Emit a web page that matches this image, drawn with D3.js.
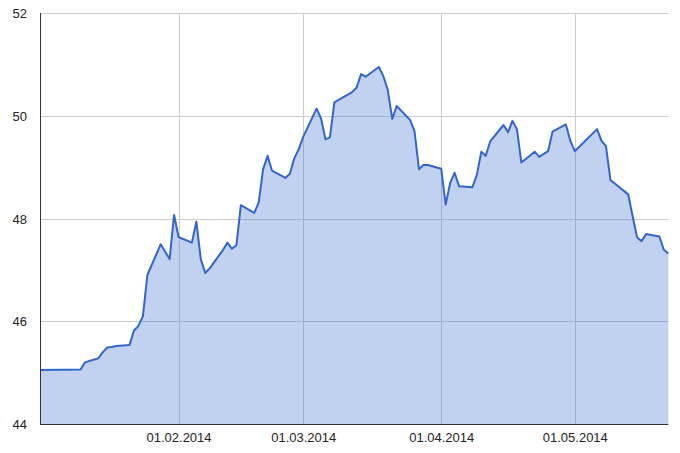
<!DOCTYPE html>
<html>
<head>
<meta charset="utf-8">
<script src="https://cdn.jsdelivr.net/npm/d3@7"></script>
<style>
  html, body { margin: 0; padding: 0; background: #fff; }
  svg { display: block; }
  text { font-family: "Liberation Sans", Arial, sans-serif; font-size: 13px; fill: #222; }
</style>
</head>
<body>
<svg id="chart" width="680" height="453"></svg>
<script>
const dates = [
  "2014-01-01","2014-01-10","2014-01-11","2014-01-14","2014-01-15","2014-01-16","2014-01-17","2014-01-18",
  "2014-01-21","2014-01-22","2014-01-23","2014-01-24","2014-01-25","2014-01-28","2014-01-30","2014-01-31",
  "2014-02-01","2014-02-04","2014-02-05","2014-02-06","2014-02-07","2014-02-08","2014-02-11","2014-02-12",
  "2014-02-13","2014-02-14","2014-02-15","2014-02-18","2014-02-19","2014-02-20","2014-02-21","2014-02-22",
  "2014-02-25","2014-02-26","2014-02-27","2014-02-28","2014-03-01","2014-03-04","2014-03-05","2014-03-06",
  "2014-03-07","2014-03-08","2014-03-12","2014-03-13","2014-03-14","2014-03-15","2014-03-18","2014-03-19",
  "2014-03-20","2014-03-21","2014-03-22","2014-03-25","2014-03-26","2014-03-27","2014-03-28","2014-03-29",
  "2014-04-01","2014-04-02","2014-04-03","2014-04-04","2014-04-05","2014-04-08","2014-04-09","2014-04-10",
  "2014-04-11","2014-04-12","2014-04-15","2014-04-16","2014-04-17","2014-04-18","2014-04-19","2014-04-22",
  "2014-04-23","2014-04-25","2014-04-26","2014-04-29","2014-04-30","2014-05-01","2014-05-06","2014-05-07",
  "2014-05-08","2014-05-09","2014-05-13","2014-05-14","2014-05-15","2014-05-16","2014-05-17","2014-05-20",
  "2014-05-21","2014-05-22"
];
const values = [
  45.05, 45.06, 45.20, 45.28, 45.40, 45.49, 45.50, 45.52,
  45.54, 45.82, 45.91, 46.10, 46.90, 47.50, 47.21, 48.07,
  47.64, 47.53, 47.94, 47.21, 46.94, 47.03, 47.39, 47.53,
  47.41, 47.48, 48.26, 48.11, 48.31, 48.96, 49.22, 48.93,
  48.79, 48.87, 49.17, 49.35, 49.59, 50.14, 49.95, 49.54,
  49.58, 50.26, 50.46, 50.55, 50.81, 50.76, 50.95, 50.77,
  50.50, 49.94, 50.19, 49.92, 49.70, 48.96, 49.04, 49.04,
  48.97, 48.27, 48.69, 48.89, 48.63, 48.61, 48.85, 49.30,
  49.22, 49.50, 49.82, 49.68, 49.90, 49.74, 49.09, 49.30,
  49.20, 49.31, 49.69, 49.83, 49.51, 49.31, 49.74, 49.51,
  49.41, 48.75, 48.47, 48.04, 47.63, 47.56, 47.70, 47.65,
  47.39, 47.32
];
const xTickDates = ["2014-02-01","2014-03-01","2014-04-01","2014-05-01"];
const xTickLabels = ["01.02.2014","01.03.2014","01.04.2014","01.05.2014"];
const yTicks = [44, 46, 48, 50, 52];
const xDomain = ["2014-01-01","2014-05-22"];
const yDomain = [44, 52];

(function () {
const parse = d3.utcParse("%Y-%m-%d");
const data = dates.map((d, i) => ({ date: parse(d), value: values[i] }));

const pLeft = 40.5, pRight = 668.3, pTop = 13, pBottom = 424;
const svg = d3.select("#chart");

const x = d3.scaleUtc().domain(xDomain.map(parse)).range([pLeft, pRight]);
const y = d3.scaleLinear().domain(yDomain).range([pBottom, pTop]);

// gridlines
const grid = svg.append("g");
grid.selectAll("line.h").data(yTicks.slice(1)).enter().append("line")
  .attr("x1", pLeft).attr("x2", pRight)
  .attr("y1", d => Math.round(y(d)) + 0.5).attr("y2", d => Math.round(y(d)) + 0.5)
  .attr("stroke", "#cccccc").attr("stroke-width", 1);
grid.selectAll("line.v").data(xTickDates.map(parse)).enter().append("line")
  .attr("x1", d => Math.round(x(d)) + 0.5).attr("x2", d => Math.round(x(d)) + 0.5)
  .attr("y1", pTop).attr("y2", pBottom)
  .attr("stroke", "#cccccc").attr("stroke-width", 1);

// area
const area = d3.area().x(d => x(d.date)).y0(y(yDomain[0])).y1(d => y(d.value));
svg.append("path").datum(data).attr("d", area)
  .attr("fill", "#3366cc").attr("fill-opacity", 0.3);

// line
const line = d3.line().x(d => x(d.date)).y(d => y(d.value));
svg.append("path").datum(data).attr("d", line)
  .attr("fill", "none").attr("stroke", "#3366cc").attr("stroke-width", 2)
  .attr("stroke-linejoin", "round");

// axis lines
svg.append("line").attr("x1", 40.5).attr("x2", 40.5).attr("y1", pTop).attr("y2", pBottom + 1)
  .attr("stroke", "#333").attr("stroke-width", 1);
svg.append("line").attr("x1", 40).attr("x2", pRight).attr("y1", Math.round(y(44)) + 0.5).attr("y2", Math.round(y(44)) + 0.5)
  .attr("stroke", "#333").attr("stroke-width", 1);

// y labels
const yAxis = d3.axisLeft(y).tickValues(yTicks).tickSize(0).tickPadding(0).tickFormat(d3.format("d"));
const gy = svg.append("g").attr("transform", "translate(27,0)").call(yAxis);
gy.select(".domain").remove();
gy.selectAll("text").attr("fill", "#222").style("font-size", "13px").attr("dy", "0.36em");

// x labels
const xAxis = d3.axisBottom(x).tickValues(xTickDates.map(parse)).tickSize(0).tickPadding(0)
  .tickFormat((d, i) => xTickLabels[i]);
const gx = svg.append("g").attr("transform", "translate(0,433)").call(xAxis);
gx.select(".domain").remove();
gx.selectAll("text").attr("fill", "#222").style("font-size", "13px").attr("dy", "0.71em");
})();
</script>
</body>
</html>
